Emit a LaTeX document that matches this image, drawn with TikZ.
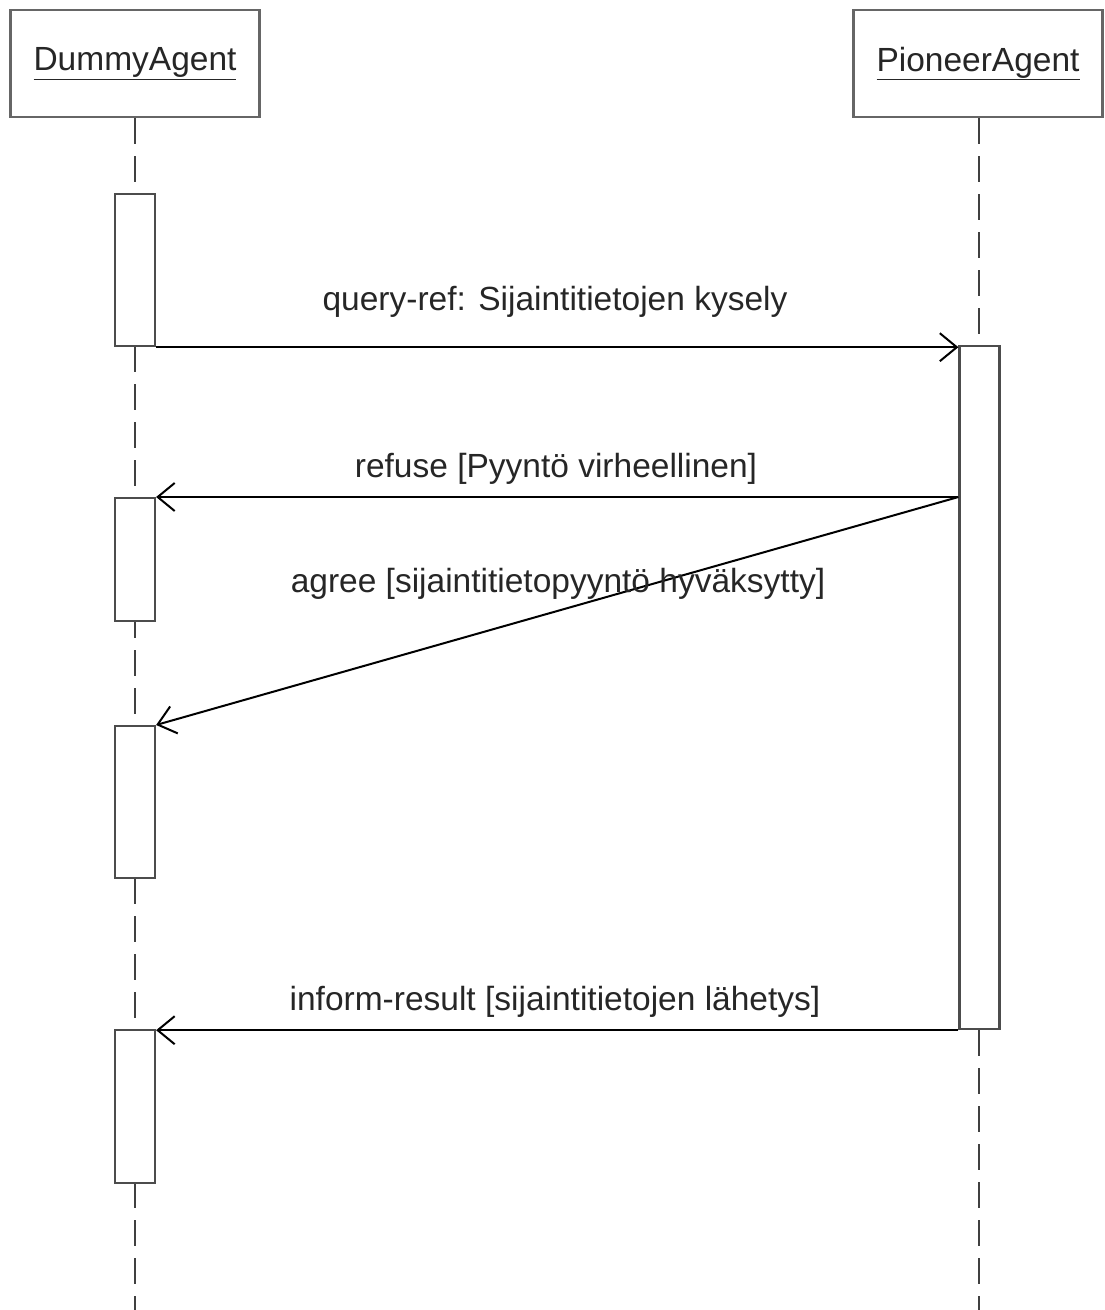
\documentclass[tikz,border=0pt]{standalone}
\usepackage{fontspec}
\setmainfont{Liberation Sans}
\usetikzlibrary{arrows.meta}
\begin{document}
\begin{tikzpicture}[x=1pt,y=-1pt,
  every node/.style={font=\fontsize{33.5}{40}\selectfont, text=black!85},
  head/.style={draw=black!60, line width=2.5pt, fill=white, inner sep=0pt,
               minimum width=249pt, minimum height=107pt},
  act/.style={draw=black!70, line width=2.2pt, fill=white, inner sep=0pt,
              minimum width=40pt},
  lifeline/.style={draw=black!75, line width=2.5pt, dash pattern=on 26pt off 12pt},
  msg/.style={draw=black, line width=2pt,
              -{Straight Barb[length=17pt, width=28pt, line width=2pt]}},
  lbl/.style={anchor=base, inner sep=0pt}]
\useasboundingbox (0,0) rectangle (1104,1310);

% object heads
\node[head] (dummy) at (135,63.5) {\underline{DummyAgent}};
\node[head] (pioneer) at (978,63.5) {\underline{PioneerAgent}};

% lifeline ends
\coordinate (dEnd) at (135,1310);
\coordinate (pEnd) at (979,1310);
\draw[lifeline] (dummy.south -| dEnd) -- (dEnd);
\draw[lifeline] (pioneer.south -| pEnd) -- (pEnd);

% activation bars
\node[act, minimum height=152pt, anchor=north] (d1) at (135,193) {};
\node[act, minimum height=123pt, anchor=north] (d2) at (135,497) {};
\node[act, minimum height=152pt, anchor=north] (d3) at (135,725) {};
\node[act, minimum height=153pt, anchor=north] (d4) at (135,1029) {};
\node[act, minimum height=683pt, anchor=north] (p1) at (979.5,345) {};

\coordinate (pRefuse) at (p1.west |- d2.north);

% messages
\draw[msg] (d1.south east) -- (d1.south east -| p1.west);
\draw[msg] (pRefuse) -- (d2.north east);
\draw[msg] (pRefuse) -- (d3.north east);
\draw[msg] (p1.south west) -- (p1.south west -| d4.east);

% message labels
\node[lbl] (l1) at (555,310) {query-ref: Sijaintitietojen kysely};
\node[lbl] (l2) at (556,477) {refuse [Pyyntö virheellinen]};
\node[lbl] (l3) at (558,592) {agree [sijaintitietopyyntö hyväksytty]};
\node[lbl] (l4) at (555,1010) {inform-result [sijaintitietojen lähetys]};
\end{tikzpicture}
\end{document}
